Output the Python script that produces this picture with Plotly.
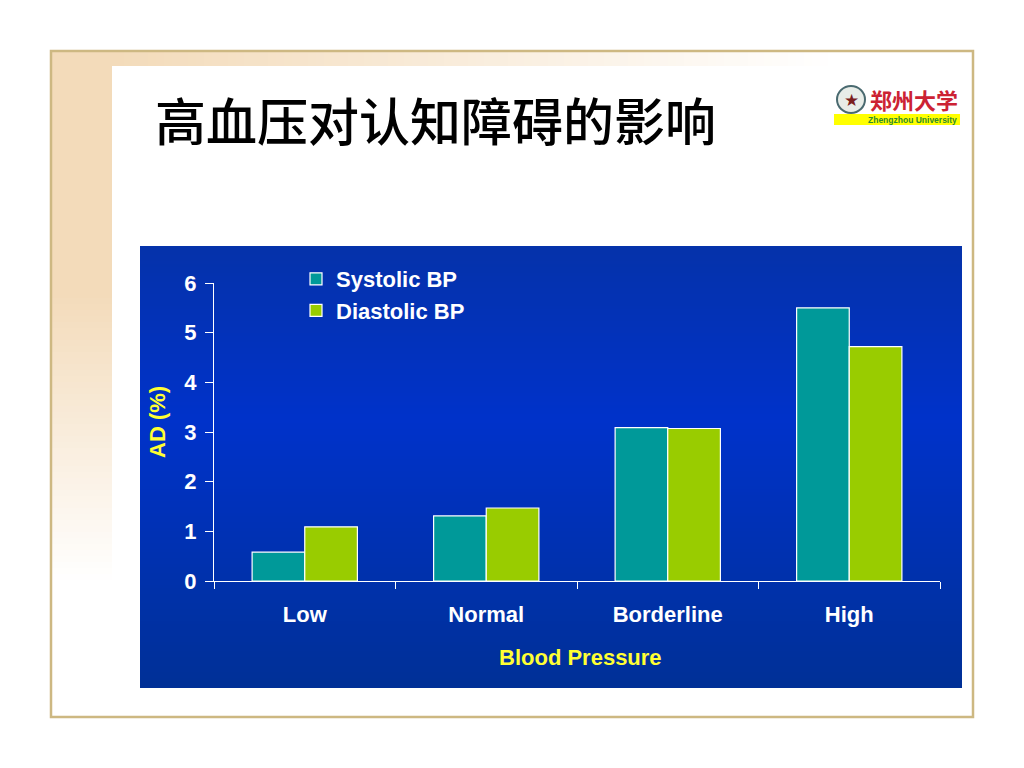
import plotly.graph_objects as go

categories = ["Low", "Normal", "Borderline", "High"]
systolic = [0.58, 1.31, 3.09, 5.5]
diastolic = [1.09, 1.47, 3.07, 4.72]
y_ticks = [0, 1, 2, 3, 4, 5, 6]
title_text = "高血压对认知障碍的影响"
logo_cn = "郑州大学"
logo_en = "Zhengzhou University"
x_title = "Blood Pressure"
y_title = "AD (%)"

W, H = 1024, 768
FONT = "Liberation Sans, Arial, sans-serif"
CJK = "Noto Sans CJK SC"


def px(x):
    return x / W


def py(y):
    return 1 - y / H


def lerp(a, b, t):
    return tuple(round(a[i] + (b[i] - a[i]) * t) for i in range(3))


def rect(x0, y0, x1, y1, fill):
    return dict(type="rect", xref="paper", yref="paper", layer="below",
                x0=px(x0), x1=px(x1), y0=py(y0), y1=py(y1),
                fillcolor=fill, line=dict(width=0))


shapes = []
TAN = (243, 219, 186)
WHITE = (255, 255, 255)
# frame: top strip fading rightward (painted over itself so no seams show)
for x in range(52, 972, 8):
    t = min(1, max(0, (x - 112) / 720))
    shapes.append(rect(x, 52, 972, 66, "rgb%s" % (lerp(TAN, WHITE, t),)))
# frame: left strip fading downward
for y in range(52, 716, 6):
    t = min(1, max(0, (y - 290) / 290))
    shapes.append(rect(52, y, 112, 716, "rgb%s" % (lerp(TAN, WHITE, t),)))
# frame border
shapes.append(dict(type="rect", xref="paper", yref="paper", layer="below",
                   x0=px(51), x1=px(973), y0=py(717), y1=py(51),
                   line=dict(color="#CDB882", width=2.5)))
# chart panel gradient
P_TOP, P_MID, P_BOT = (5, 50, 170), (0, 50, 202), (0, 48, 150)
for y in range(246, 688, 3):
    if y < 420:
        c = lerp(P_TOP, P_MID, (y - 246) / 174)
    else:
        c = lerp(P_MID, P_BOT, (y - 420) / 268)
    shapes.append(rect(140, y, 962, 688, "rgb%s" % (c,)))
# logo band and emblem
shapes.append(rect(834, 114, 960, 125, "#FFFF00"))
shapes.append(dict(type="circle", xref="paper", yref="paper", layer="below",
                   x0=px(837), x1=px(865), y0=py(113), y1=py(86),
                   fillcolor="#E8EDE8", line=dict(color="#4A6A70", width=2)))

fig = go.Figure()
fig.add_bar(name="Systolic BP", x=categories, y=systolic,
            marker=dict(color="#009999", line=dict(color="white", width=1.2)),
            legendgroup="a")
fig.add_bar(name="Diastolic BP", x=categories, y=diastolic,
            marker=dict(color="#99CC00", line=dict(color="white", width=1.2)),
            legendgroup="b")

annotations = [
    dict(text=title_text, x=px(153), y=py(119), xref="paper", yref="paper",
         xanchor="left", yanchor="middle", showarrow=False,
         font=dict(family=CJK, size=51, color="black", weight=500)),
    dict(text=logo_cn, x=px(914), y=py(99), xref="paper", yref="paper",
         xanchor="center", yanchor="middle", showarrow=False,
         font=dict(family=CJK, size=22, color="#CC2233", weight="bold")),
    dict(text=logo_en, x=px(959), y=py(120), xref="paper", yref="paper",
         xanchor="right", yanchor="middle", showarrow=False,
         font=dict(family=FONT, size=8.5, color="#2E8B2E", weight="bold")),
    dict(text="★", x=px(851), y=py(100), xref="paper", yref="paper",
         xanchor="center", yanchor="middle", showarrow=False,
         font=dict(family="DejaVu Sans", size=17, color="#7A1F1F")),
    dict(text=x_title, x=px(580), y=py(657), xref="paper", yref="paper",
         xanchor="center", yanchor="middle", showarrow=False,
         font=dict(family=FONT, size=22, color="#FFFF33", weight="bold")),
    dict(text=y_title, x=px(157), y=py(422), xref="paper", yref="paper",
         xanchor="center", yanchor="middle", showarrow=False, textangle=-90,
         font=dict(family=FONT, size=22, color="#FFFF33", weight="bold")),
]

fig.update_layout(
    width=W, height=H,
    margin=dict(l=0, r=0, t=0, b=0),
    paper_bgcolor="white",
    plot_bgcolor="rgba(0,0,0,0)",
    barmode="group",
    bargap=0.42,
    bargroupgap=0,
    shapes=shapes,
    annotations=annotations,
    font=dict(family=FONT, color="white"),
    legend=dict(x=px(296), y=py(258), xanchor="left", yanchor="top",
                bgcolor="rgba(0,0,0,0)", tracegroupgap=0, traceorder="grouped",
                font=dict(family=FONT, size=22, color="white", weight="bold")),
    xaxis=dict(domain=[px(214), px(940)], tickson="boundaries", automargin=False,
               ticks="outside", ticklen=7, tickcolor="white", tickwidth=1,
               showline=True, linecolor="white", linewidth=1, showgrid=False,
               zeroline=False, ticklabelstandoff=14,
               tickfont=dict(family=FONT, size=22, color="white", weight="bold")),
    yaxis=dict(domain=[py(581), py(283)], range=[0, 6], tickvals=y_ticks, automargin=False,
               ticks="outside", ticklen=8, tickcolor="white", tickwidth=1,
               showline=True, linecolor="white", linewidth=1, showgrid=False,
               zeroline=False, ticklabelstandoff=4,
               tickfont=dict(family=FONT, size=22, color="white", weight="bold")),
)

fig.write_html("out.html", config=dict(displayModeBar=False),
               post_script="document.body.style.margin='0';")
